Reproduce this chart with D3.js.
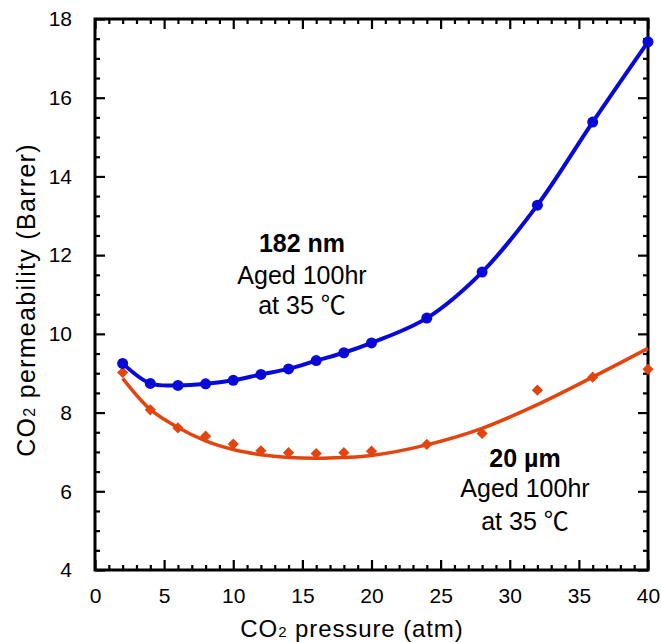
<!DOCTYPE html>
<html>
<head>
<meta charset="utf-8">
<script src="https://cdn.jsdelivr.net/npm/d3@7"></script>
<style>
  html, body { margin: 0; padding: 0; background: #fff; }
  svg { display: block; }
  text { font-family: "Liberation Sans", Arial, "Noto Sans CJK SC", sans-serif; fill: #000; }
</style>
</head>
<body>
<script>
// ---- data ----
const pressure = [2, 4, 6, 8, 10, 12, 14, 16, 18, 20, 24, 28, 32, 36, 40];
const perm182nm = [9.25, 8.74, 8.69, 8.73, 8.82, 8.97, 9.11, 9.32, 9.52, 9.77, 10.40, 11.57, 13.27, 15.38, 17.42];
const perm20um = [9.02, 8.07, 7.61, 7.40, 7.20, 7.03, 6.98, 6.96, 6.98, 7.02, 7.19, 7.47, 8.57, 8.90, 9.10];
const fitPressure20um = [2, 4, 6, 8, 10, 12, 14, 16, 18, 20, 24, 28, 32, 36, 40];
const fitPerm20um = [8.87, 8.08, 7.62, 7.28, 7.06, 6.93, 6.86, 6.84, 6.86, 6.91, 7.18, 7.60, 8.20, 8.90, 9.63];
const xMajorTicks = [0, 5, 10, 15, 20, 25, 30, 35, 40];
const yMajorTicks = [4, 6, 8, 10, 12, 14, 16, 18];
const label182 = ["182 nm", "Aged 100hr", "at 35 \u2103"];
const label20 = ["20 \u00b5m", "Aged 100hr", "at 35 \u2103"];

// ---- layout ----
const W = 661, H = 642;
const L = 95, T = 19, R = 648, B = 570;
const blue = "#0808d8", orange = "#e2450f";

const svg = d3.select("body").append("svg").attr("width", W).attr("height", H);

const x = d3.scaleLinear().domain([0, 40]).range([L, R]);
const y = d3.scaleLinear().domain([4, 18]).range([B, T]);

const xMinor = d3.range(0, 41, 1).filter(v => v % 5 !== 0);
const yMinor = d3.range(4, 18.01, 0.5).filter(v => v % 2 !== 0);

function styleAxis(g) {
  g.select(".domain").remove();
  g.selectAll(".tick line").attr("stroke", "#000").attr("stroke-width", 2.2);
}

// bottom
svg.append("g").attr("transform", `translate(0,${B})`)
  .call(d3.axisBottom(x).tickValues(xMinor).tickSize(-5).tickFormat(""))
  .call(styleAxis);
const xb = svg.append("g").attr("transform", `translate(0,${B})`)
  .call(d3.axisBottom(x).tickValues(xMajorTicks).tickSize(-10).tickPadding(18).tickFormat(d3.format("d")))
  .call(styleAxis);
xb.selectAll(".tick text").attr("font-size", 21).attr("fill", "#000")
  .style("font-family", "Liberation Sans, Arial, sans-serif");
// top
svg.append("g").attr("transform", `translate(0,${T})`)
  .call(d3.axisTop(x).tickValues(xMinor).tickSize(-5).tickFormat(""))
  .call(styleAxis);
svg.append("g").attr("transform", `translate(0,${T})`)
  .call(d3.axisTop(x).tickValues(xMajorTicks).tickSize(-10).tickFormat(""))
  .call(styleAxis);
// left
svg.append("g").attr("transform", `translate(${L},0)`)
  .call(d3.axisLeft(y).tickValues(yMinor).tickSize(-5).tickFormat(""))
  .call(styleAxis);
const yl = svg.append("g").attr("transform", `translate(${L},0)`)
  .call(d3.axisLeft(y).tickValues(yMajorTicks).tickSize(-10).tickPadding(23).tickFormat(d3.format("d")))
  .call(styleAxis);
yl.selectAll(".tick text").attr("font-size", 21).attr("fill", "#000")
  .style("font-family", "Liberation Sans, Arial, sans-serif");
// right
svg.append("g").attr("transform", `translate(${R},0)`)
  .call(d3.axisRight(y).tickValues(yMinor).tickSize(-5).tickFormat(""))
  .call(styleAxis);
svg.append("g").attr("transform", `translate(${R},0)`)
  .call(d3.axisRight(y).tickValues(yMajorTicks).tickSize(-10).tickFormat(""))
  .call(styleAxis);

// frame
svg.append("rect").attr("x", L).attr("y", T).attr("width", R - L).attr("height", B - T)
  .attr("fill", "none").attr("stroke", "#000").attr("stroke-width", 3);

// curves
const line = d3.line().x(d => x(d[0])).y(d => y(d[1])).curve(d3.curveCatmullRom.alpha(0.5));

svg.append("path").datum(fitPressure20um.map((p, i) => [p, fitPerm20um[i]]))
  .attr("d", line).attr("fill", "none").attr("stroke", orange).attr("stroke-width", 3.5);
svg.append("path").datum(pressure.map((p, i) => [p, perm182nm[i]]))
  .attr("d", line).attr("fill", "none").attr("stroke", blue).attr("stroke-width", 4);

// markers
svg.append("g").selectAll("path").data(pressure.map((p, i) => [p, perm20um[i]])).join("path")
  .attr("d", d3.symbol(d3.symbolDiamond2, 80))
  .attr("transform", d => `translate(${x(d[0])},${y(d[1])})`)
  .attr("fill", orange);
svg.append("g").selectAll("circle").data(pressure.map((p, i) => [p, perm182nm[i]])).join("circle")
  .attr("cx", d => x(d[0])).attr("cy", d => y(d[1])).attr("r", 5.5)
  .attr("fill", blue);

// annotations
function block(lines, cx, baselines) {
  lines.forEach((t, i) => {
    svg.append("text").attr("x", cx).attr("y", baselines[i])
      .attr("text-anchor", "middle").attr("font-size", 25)
      .attr("font-weight", i === 0 ? "bold" : "normal")
      .text(t);
  });
}
block(label182, 302, [251.5, 283.5, 313.5]);
block(label20, 525, [466.5, 496.5, 529.5]);

// axis titles
const xt = svg.append("text").attr("x", 352).attr("y", 636.5)
  .attr("text-anchor", "middle").attr("font-size", 24).attr("letter-spacing", 0.9);
xt.append("tspan").text("CO");
xt.append("tspan").attr("font-size", 15).text("2");
xt.append("tspan").text(" pressure (atm)");

const yt = svg.append("text").attr("transform", `translate(35,300) rotate(-90)`)
  .attr("text-anchor", "middle").attr("font-size", 25).attr("letter-spacing", 1.3);
yt.append("tspan").text("CO");
yt.append("tspan").attr("font-size", 16).text("2");
yt.append("tspan").text(" permeability (Barrer)");
</script>
</body>
</html>
